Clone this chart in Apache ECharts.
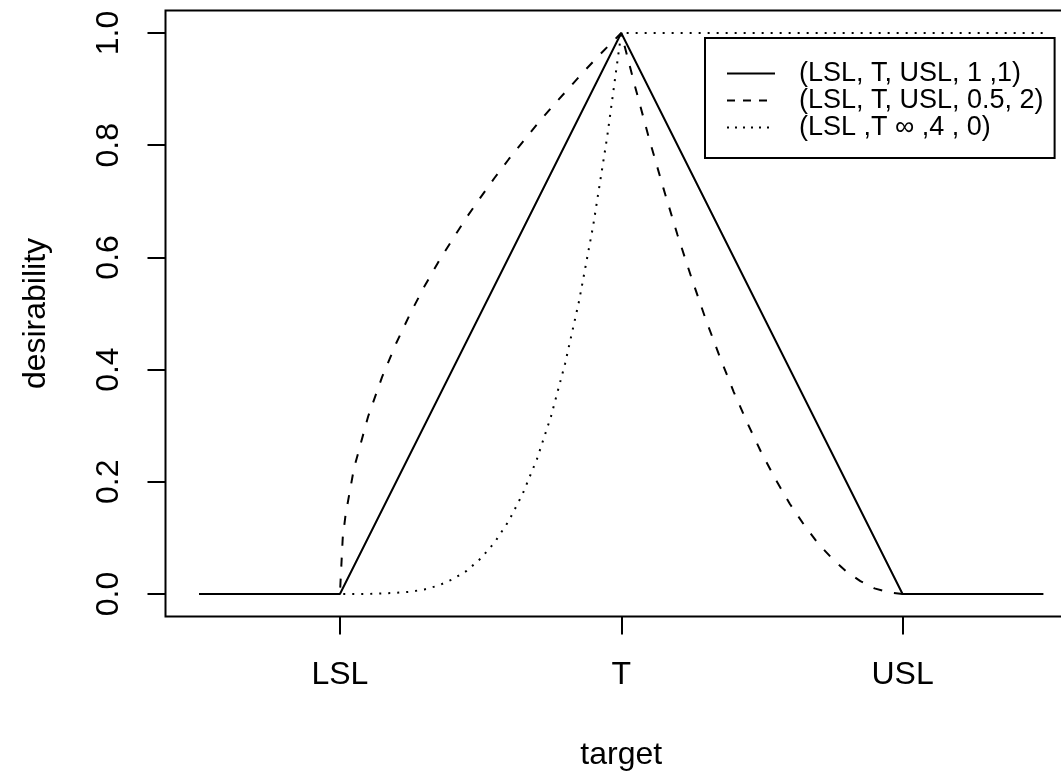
<!DOCTYPE html>
<html>
<head>
<meta charset="utf-8">
<script src="https://cdn.jsdelivr.net/npm/echarts@6/dist/echarts.min.js"></script>
<style>
html,body{margin:0;padding:0;background:#fff;overflow:hidden;width:1061px;height:771px;}
#c{width:1100px;height:771px;}
</style>
</head>
<body>
<div id="c"></div>
<script>
// ---- data (x in units: LSL = 0, T = 1, USL = 2) ----
const xTickValues = [0, 1, 2];
const xTickLabels = ['LSL', 'T', 'USL'];
const yTickValues = [0, 0.2, 0.4, 0.6, 0.8, 1.0];
const seriesNames = ['(LSL, T, USL, 1 ,1)', '(LSL, T, USL, 0.5, 2)', '(LSL ,T \u221e ,4 , 0)'];

// solid: linear (1,1)
const solidX = [-0.5, 0, 1, 2, 2.5];
const solidY = [0, 0, 1, 0, 0];

// dashed: (0.5, 2)
const dashedX = [-0.5, 0, 0.01, 0.02, 0.05, 0.1, 0.15, 0.2, 0.25, 0.3, 0.35, 0.4, 0.45, 0.5, 0.55, 0.6, 0.65, 0.7, 0.75, 0.8, 0.85, 0.9, 0.95, 1.0,
  1.05, 1.1, 1.15, 1.2, 1.25, 1.3, 1.35, 1.4, 1.45, 1.5, 1.55, 1.6, 1.65, 1.7, 1.75, 1.8, 1.85, 1.9, 1.95, 2.0, 2.5];
const dashedY = [0, 0, 0.1, 0.141, 0.224, 0.316, 0.387, 0.447, 0.5, 0.548, 0.592, 0.632, 0.671, 0.707, 0.742, 0.775, 0.806, 0.837, 0.866, 0.894, 0.922, 0.949, 0.975, 1.0,
  0.903, 0.81, 0.723, 0.64, 0.563, 0.49, 0.423, 0.36, 0.303, 0.25, 0.203, 0.16, 0.123, 0.09, 0.063, 0.04, 0.023, 0.01, 0.003, 0, 0];

// dotted: (4, 0)
const dottedX = [-0.5, 0, 0.05, 0.1, 0.15, 0.2, 0.25, 0.3, 0.35, 0.4, 0.45, 0.5, 0.55, 0.6, 0.65, 0.7, 0.75, 0.8, 0.85, 0.9, 0.95, 1.0, 2.5];
const dottedY = [0, 0, 0, 0, 0.001, 0.002, 0.004, 0.008, 0.015, 0.026, 0.041, 0.063, 0.092, 0.13, 0.179, 0.24, 0.316, 0.41, 0.522, 0.656, 0.815, 1.0, 1.0];

const pair = (xs, ys) => xs.map((x, i) => [x, ys[i]]);

const FONT = '"Liberation Sans", Arial, Helvetica, sans-serif';
const chart = echarts.init(document.getElementById('c'), null, {renderer: 'canvas'});

const lineBase = {type: 'line', symbol: 'none', showSymbol: false, animation: false, silent: true};

chart.setOption({
  animation: false,
  backgroundColor: '#fff',
  textStyle: {fontFamily: FONT, color: '#000'},
  grid: {left: 165.5, top: 10.6, width: 911.5, height: 605.8, show: true, borderColor: '#000', borderWidth: 2,
    backgroundColor: 'transparent', containLabel: false, outerBoundsMode: 'none'},
  xAxis: {
    type: 'value', min: -0.62, max: 2.62,
    name: 'target', nameLocation: 'middle', nameGap: 123,
    nameTextStyle: {fontSize: 32, color: '#000', fontFamily: FONT},
    axisLine: {show: false, onZero: false},
    splitLine: {show: false},
    axisTick: {show: true, length: 18, customValues: xTickValues, lineStyle: {color: '#000', width: 2}},
    axisLabel: {show: true, customValues: xTickValues, margin: 43, fontSize: 32, color: '#000', fontFamily: FONT,
      formatter: v => xTickLabels[xTickValues.indexOf(Math.round(v))]}
  },
  yAxis: {
    type: 'value', min: -0.04, max: 1.04,
    name: 'desirability', nameLocation: 'middle', nameGap: 113, nameRotate: 90,
    nameTextStyle: {fontSize: 32, color: '#000', fontFamily: FONT},
    axisLine: {show: false, onZero: false},
    splitLine: {show: false},
    axisTick: {show: true, length: 18, customValues: yTickValues, lineStyle: {color: '#000', width: 2}},
    axisLabel: {show: true, customValues: yTickValues, rotate: 90, margin: 40, fontSize: 32, color: '#000', fontFamily: FONT,
      formatter: v => v.toFixed(1)}
  },
  legend: {
    show: true, orient: 'vertical', left: 705, top: 38,
    padding: [22, 11, 17, 21], itemGap: 0, itemWidth: 48, itemHeight: 14,
    backgroundColor: '#fff', borderColor: '#000', borderWidth: 2, borderRadius: 0,
    itemStyle: {color: 'transparent', borderWidth: 0, opacity: 0},
    textStyle: {fontSize: 27, color: '#000', fontFamily: FONT, lineHeight: 27, padding: [0, 0, 0, 19]},
    data: [
      {name: seriesNames[0], lineStyle: {color: '#000', width: 2, type: 'solid'}},
      {name: seriesNames[1], lineStyle: {color: '#000', width: 2, type: [8, 8]}},
      {name: seriesNames[2], lineStyle: {color: '#000', width: 2, type: [2, 6]}}
    ]
  },
  series: [
    Object.assign({}, lineBase, {name: seriesNames[0], data: pair(solidX, solidY), lineStyle: {color: '#000', width: 2, type: 'solid'}, itemStyle: {color: '#000'}}),
    Object.assign({}, lineBase, {name: seriesNames[1], data: pair(dashedX, dashedY), lineStyle: {color: '#000', width: 2, type: [9, 12]}, itemStyle: {color: '#000'}}),
    Object.assign({}, lineBase, {name: seriesNames[2], data: pair(dottedX, dottedY), lineStyle: {color: '#000', width: 2, type: [2, 7]}, itemStyle: {color: '#000'}})
  ]
});
</script>
</body>
</html>
